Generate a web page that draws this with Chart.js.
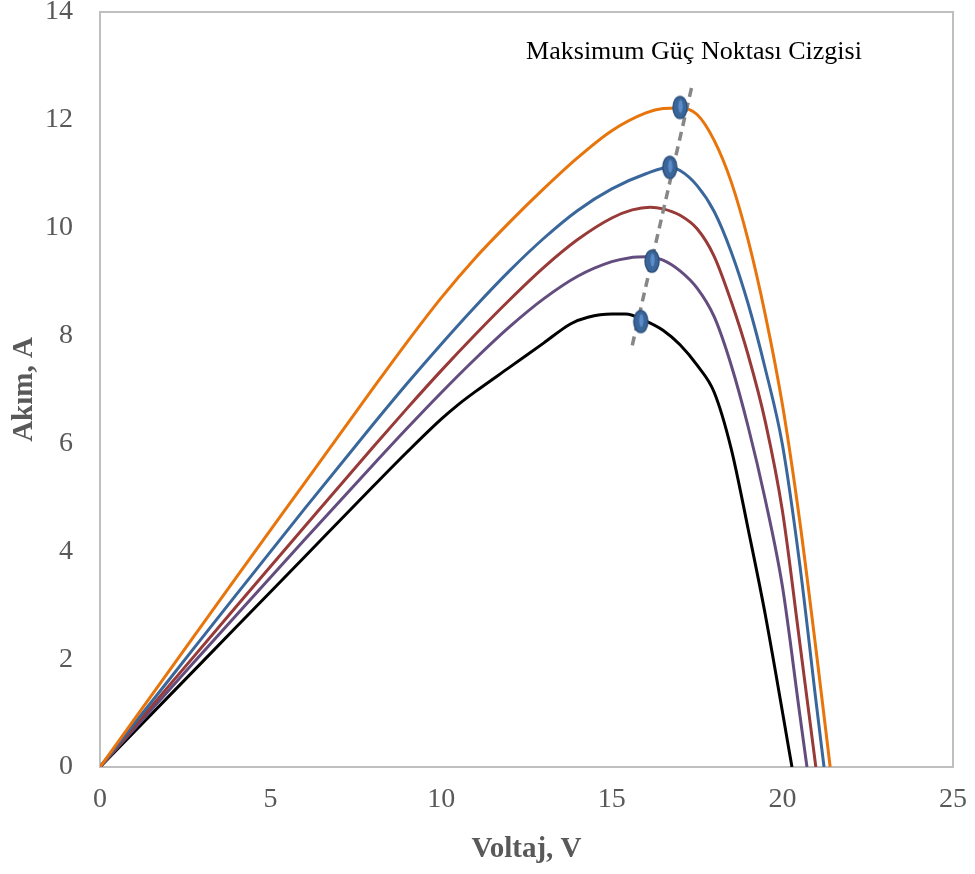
<!DOCTYPE html>
<html>
<head>
<meta charset="utf-8">
<script src="https://cdn.jsdelivr.net/npm/chart.js@4/dist/chart.umd.min.js"></script>
<style>
  html, body { margin: 0; padding: 0; background: #fff; }
  #wrap { width: 975px; height: 874px; }
</style>
</head>
<body>
<div id="wrap"><canvas id="chart"></canvas></div>
<script>
// I-V curves, voltage (V) and current (A)
const orangeV = [0, 2, 4, 6, 8, 9, 10, 11, 12, 13, 14, 15, 16, 16.5, 17, 17.5, 18, 18.5, 19, 19.5, 20, 20.5, 21, 21.4];
const orangeI = [0, 1.76, 3.52, 5.27, 7.02, 7.88, 8.7, 9.44, 10.1, 10.72, 11.3, 11.8, 12.13, 12.21, 12.22, 12.1, 11.62, 10.85, 9.76, 8.38, 6.72, 4.6, 2.1, 0];

const blueV = [0, 2, 4, 6, 8, 9, 10, 11, 12, 13, 14, 15, 16, 16.7, 17, 17.5, 18, 18.5, 19, 19.5, 20, 20.5, 21, 21.22];
const blueI = [0, 1.6, 3.2, 4.79, 6.35, 7.11, 7.84, 8.54, 9.2, 9.8, 10.32, 10.72, 11.0, 11.12, 11.06, 10.78, 10.3, 9.55, 8.58, 7.38, 5.98, 3.8, 1.14, 0];

const redV = [0, 2, 4, 6, 8, 9, 10, 11, 12, 13, 14, 15, 15.6, 16.12, 16.5, 17, 17.5, 18, 18.5, 19, 19.5, 20, 20.5, 20.98];
const redI = [0, 1.49, 2.98, 4.46, 5.93, 6.65, 7.35, 8.02, 8.66, 9.26, 9.78, 10.18, 10.33, 10.38, 10.35, 10.23, 9.98, 9.47, 8.63, 7.63, 6.4, 4.75, 2.35, 0];

const purpleV = [0, 2, 4, 6, 8, 9, 10, 11, 12, 13, 14, 15, 15.5, 16.05, 16.5, 17, 17.5, 18, 18.5, 19, 19.5, 20, 20.5, 20.72];
const purpleI = [0, 1.41, 2.82, 4.22, 5.6, 6.28, 6.94, 7.57, 8.16, 8.68, 9.1, 9.37, 9.44, 9.46, 9.4, 9.2, 8.88, 8.35, 7.45, 6.3, 4.95, 3.35, 1.02, 0];

const blackV = [0, 2, 4, 6, 8, 9, 10, 10.5, 11, 12, 13, 13.8, 14.3, 15, 15.4, 16, 16.5, 17, 17.5, 18, 18.5, 19, 19.5, 20.28];
const blackI = [0, 1.3, 2.6, 3.9, 5.2, 5.84, 6.45, 6.72, 6.96, 7.41, 7.86, 8.22, 8.34, 8.4, 8.4, 8.27, 8.1, 7.83, 7.45, 6.95, 5.9, 4.4, 2.82, 0];

// maximum power points
const mppV = [17.0, 16.7, 16.18, 15.85];
const mppI = [12.23, 11.12, 9.38, 8.26];

// maximum power point line ends
const mppLineV = [15.6, 17.35];
const mppLineI = [7.82, 12.63];

const xTicks = [0, 5, 10, 15, 20, 25];
const yTicks = [0, 2, 4, 6, 8, 10, 12, 14];

const noteText = "Maksimum Güç Noktası Cizgisi";
const noteAt = { x: 17.41, y: 13.12 };

function pts(vs, is) {
  return vs.map((v, i) => ({ x: v, y: is[i] }));
}

// ellipse marker like the one in the picture
function makeMarker() {
  const c = document.createElement("canvas");
  c.width = 18; c.height = 26;
  const g = c.getContext("2d");
  g.beginPath();
  g.ellipse(9, 13, 7, 11, 0, 0, Math.PI * 2);
  g.fillStyle = "#3A6699";
  g.fill();
  g.lineWidth = 1.5;
  g.strokeStyle = "#2B4F7D";
  g.stroke();
  g.beginPath();
  g.ellipse(9.5, 12, 2.2, 6.5, 0, 0, Math.PI * 2);
  g.fillStyle = "#5B8CC9";
  g.fill();
  return c;
}
const marker = makeMarker();

const serif = "'Liberation Serif', 'Times New Roman', serif";

const boxPlugin = {
  id: "box",
  beforeDatasetsDraw(chart) {
    const a = chart.chartArea, ctx = chart.ctx;
    ctx.save();
    ctx.strokeStyle = "#BFBFBF";
    ctx.lineWidth = 2;
    ctx.strokeRect(a.left, a.top, a.right - a.left, a.bottom - a.top);
    ctx.restore();
  }
};

const notePlugin = {
  id: "note",
  afterDraw(chart) {
    const ctx = chart.ctx;
    const x = chart.scales.x.getPixelForValue(noteAt.x);
    const y = chart.scales.y.getPixelForValue(noteAt.y);
    ctx.save();
    ctx.font = "26px " + serif;
    ctx.fillStyle = "#000";
    ctx.textAlign = "center";
    ctx.textBaseline = "alphabetic";
    ctx.fillText(noteText, x, y);
    ctx.restore();
  }
};

const line = (label, vs, is, color) => ({
  label,
  data: pts(vs, is),
  borderColor: color,
  borderWidth: 3,
  pointRadius: 0,
  showLine: true,
  fill: false,
  cubicInterpolationMode: "monotone"
});

new Chart(document.getElementById("chart"), {
  type: "scatter",
  data: {
    datasets: [
      {
        label: "MPP",
        data: pts(mppV, mppI),
        pointStyle: marker,
        pointRadius: 9,
        showLine: false
      },
      {
        label: "MPP line",
        data: pts(mppLineV, mppLineI),
        borderColor: "#878787",
        borderWidth: 3.5,
        borderDash: [9, 6],
        pointRadius: 0,
        showLine: true
      },
      line("orange", orangeV, orangeI, "#E8740C"),
      line("blue", blueV, blueI, "#3A679B"),
      line("red", redV, redI, "#973A38"),
      line("purple", purpleV, purpleI, "#634D7F"),
      line("black", blackV, blackI, "#000000")
    ]
  },
  options: {
    responsive: true,
    maintainAspectRatio: false,
    animation: false,
    layout: { padding: { top: 12, right: 22, left: 0, bottom: 0 } },
    plugins: { legend: { display: false }, tooltip: { enabled: false } },
    scales: {
      x: {
        type: "linear",
        min: 0, max: 25,
        afterBuildTicks: s => { s.ticks = xTicks.map(v => ({ value: v })); },
        grid: { display: false, drawTicks: false },
        border: { display: false },
        ticks: { color: "#595959", padding: 16, font: { family: serif, size: 28 } },
        title: {
          display: true, text: "Voltaj, V", color: "#595959",
          font: { family: serif, size: 29, weight: "bold" },
          padding: { top: 0, bottom: 7 }
        },
        afterFit: s => { s.height = 107; s.paddingLeft = 0; s.paddingRight = 0; }
      },
      y: {
        type: "linear",
        min: 0, max: 14,
        afterBuildTicks: s => { s.ticks = yTicks.map(v => ({ value: v })); },
        grid: { display: false, drawTicks: false },
        border: { display: false },
        ticks: { color: "#595959", padding: 27, font: { family: serif, size: 28 } },
        title: {
          display: true, text: "Akım, A", color: "#595959",
          font: { family: serif, size: 29, weight: "bold" },
          padding: { top: 7, bottom: 0 }
        },
        afterFit: s => { s.width = 100; s.paddingTop = 0; s.paddingBottom = 0; }
      }
    }
  },
  plugins: [boxPlugin, notePlugin]
});
</script>
</body>
</html>
